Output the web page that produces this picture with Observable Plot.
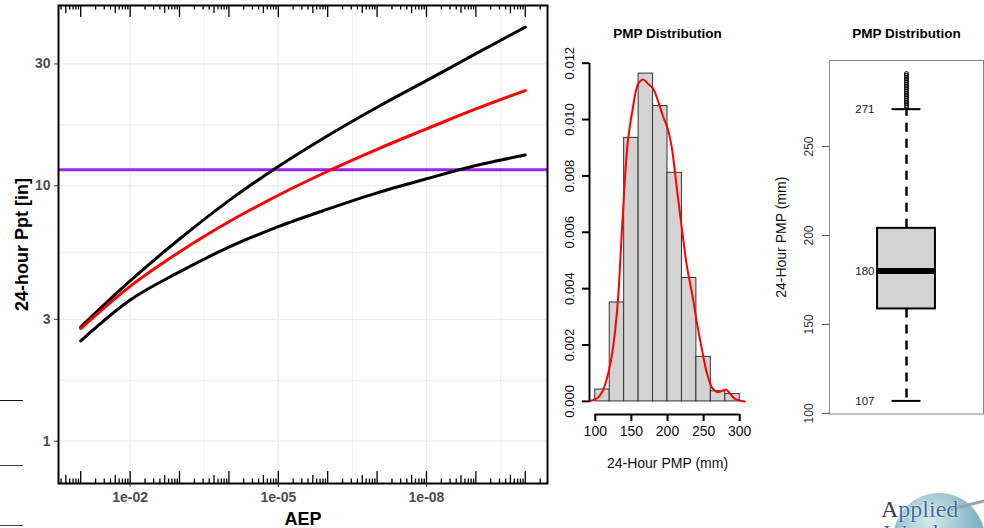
<!DOCTYPE html>
<html><head><meta charset="utf-8">
<script src="https://cdn.jsdelivr.net/npm/d3@7"></script>
<script src="https://cdn.jsdelivr.net/npm/@observablehq/plot@0.6"></script>
<style>
body{margin:0;background:#fff;}
#wrap{position:relative;width:984px;height:528px;overflow:hidden;background:#fff;font-family:"Liberation Sans",Arial,sans-serif;}
.panel{position:absolute;top:0;}
.stub{position:absolute;left:0;width:23px;height:1px;}
#globe{position:absolute;left:893px;top:493px;width:92px;height:92px;border-radius:50%;
  background:radial-gradient(circle at 40% 30%, #d6eaee 0%, #8fbfca 45%, #5c97a9 100%);}
.logo{position:absolute;font-family:"Liberation Serif","DejaVu Serif",serif;font-size:24px;line-height:24px;color:#46699a;
  text-shadow:0 0 2px #fff,0 0 1px #fff;}
#swoosh{position:absolute;left:950px;top:503px;width:40px;height:3px;background:#9aa4ad;transform:rotate(-14deg);border-radius:2px;}
</style></head>
<body><div id="wrap">
<div class="panel" id="pA" style="left:0"></div>
<div class="panel" id="pB" style="left:560px"></div>
<div class="panel" id="pC" style="left:770px"></div>
<div class="stub" style="top:400px;background:#111"></div>
<div class="stub" style="top:465px;background:#444"></div>
<div class="stub" style="top:525px;background:#444"></div>
<div id="globe"></div>
<div id="swoosh"></div>
<div class="logo" style="left:881px;top:497px"><span style="color:#2c3e5c">A</span>pplied</div>
<div class="logo" style="left:884px;top:521px">Weather</div>
</div>
<script>
// ---------- Panel A: precipitation frequency curves ----------
const aep = [1e-1, 1e-2, 1e-3, 1e-4, 1e-5, 1e-6, 1e-7, 1e-8, 1e-9, 1e-10];
const upperPpt = [2.80, 4.24, 6.19, 8.75, 11.9, 15.7, 20.3, 25.8, 32.9, 41.8];
const centralPpt = [2.76, 4.04, 5.51, 7.23, 9.18, 11.4, 13.9, 16.7, 20.0, 23.6];
const lowerPpt = [2.47, 3.57, 4.60, 5.75, 6.92, 8.1, 9.38, 10.65, 12.0, 13.2];
const pmpLine = [11.56];
const yTicksA = [1, 3, 10, 30];
const xTicksA = [1e-2, 1e-5, 1e-8];
const yGridA = [1, 1.732, 3, 5.477, 10, 17.32, 30];
const xGridA = [10 ** -3.5, 1e-2, 1e-5, 10 ** -6.5, 1e-8, 10 ** -9.5];

// ---------- Panel B: histogram + density ----------
const binEdges = [100, 120, 140, 160, 180, 200, 220, 240, 260, 280, 300];
const binDensity = [0.00042, 0.00351, 0.00935, 0.01163, 0.01048, 0.00811, 0.00438, 0.00158, 0.00036, 0.00026];
const densX = [92, 103, 110, 117, 124, 131, 138, 145, 152, 159, 166, 173, 180, 187, 194, 200, 206, 213, 220, 227, 234, 241, 248, 255, 262, 269, 276, 281, 287, 294, 307];
const densY = [0, 0.00012, 0.00036, 0.0009, 0.0018, 0.00347, 0.00658, 0.0092, 0.0104, 0.01124, 0.01142, 0.01127, 0.0111, 0.01065, 0.0101, 0.0097, 0.0090, 0.00754, 0.0061, 0.00478, 0.00383, 0.00275, 0.0018, 0.00096, 0.00048, 0.00033, 0.00038, 0.00042, 0.00026, 0.00008, 0];
const yTicksB = [0, 0.002, 0.004, 0.006, 0.008, 0.010, 0.012];
const xTicksB = [100, 150, 200, 250, 300];

// ---------- Panel C: boxplot ----------
const boxName = ["PMP"];
const boxLo = [107], boxQ1 = [158.7], boxMedian = [180], boxQ3 = [204], boxHi = [271];
const boxLabels = [271, 180, 107];
const outliers = [272, 273, 274, 275, 276, 277, 278, 279, 280, 281, 282, 283, 284, 285, 286, 287, 288, 289, 290, 291];
const yTicksC = [100, 150, 200, 250];

const FONT = '"Liberation Sans", Arial, sans-serif';
const H = 528;

// ----- build A -----
const seriesA = [
  {name: "upper", values: upperPpt, color: "black"},
  {name: "lower", values: lowerPpt, color: "black"},
  {name: "central", values: centralPpt, color: "red"}
];
const rowsA = seriesA.flatMap(s => aep.map((a, i) => ({aep: a, ppt: s.values[i], name: s.name, color: s.color})));
const mA = {top: 5, right: 13, bottom: 45, left: 58};
const fhA = H - mA.top - mA.bottom;
const xDomA = [10 ** -0.55, 10 ** -10.45];
const yDomA = [0.683, 50.8];
const logTicks = [];
for (let n = 0; n <= 10; n++) for (let k = 1; k <= 9; k++) {
  const t = n + Math.log10(k);
  if (t >= 0.55 && t <= 10.45) logTicks.push({x: 10 ** -t, kind: k === 1 ? "long" : k === 5 ? "mid" : "short"});
}
const tickLen = {long: 12, mid: 8, short: 4.5};
const fmtE = d => {
  const e = Math.round(Math.log10(d));
  return "1e" + (e < 0 ? "-" : "+") + String(Math.abs(e)).padStart(2, "0");
};

const plotA = Plot.plot({
  width: 560, height: H,
  marginTop: mA.top, marginRight: mA.right, marginBottom: mA.bottom, marginLeft: mA.left,
  style: {fontFamily: FONT, background: "transparent"},
  x: {type: "log", domain: xDomA, axis: null},
  y: {type: "log", domain: yDomA, axis: null},
  marks: [
    Plot.ruleY(yGridA, {stroke: "#EBEBEB", strokeWidth: d => yTicksA.includes(d) ? 1.3 : 0.8}),
    Plot.ruleX(xGridA, {stroke: "#EBEBEB", strokeWidth: d => xTicksA.includes(d) ? 1.3 : 0.8}),
    Plot.ruleY(pmpLine, {stroke: "#A020F0", strokeWidth: 3}),
    Plot.line(rowsA.filter(d => d.color === "black"), {x: "aep", y: "ppt", z: "name", stroke: "black", strokeWidth: 3, curve: "monotone-x"}),
    Plot.line(rowsA.filter(d => d.color === "red"), {x: "aep", y: "ppt", stroke: "red", strokeWidth: 3, curve: "monotone-x"}),
    ...["long", "mid", "short"].flatMap(kind => [
      Plot.tickX(logTicks.filter(d => d.kind === kind), {x: "x", insetTop: fhA - tickLen[kind], stroke: "black", strokeWidth: 1.3}),
      Plot.tickX(logTicks.filter(d => d.kind === kind), {x: "x", insetBottom: fhA - tickLen[kind], stroke: "black", strokeWidth: 1.3})
    ]),
    Plot.frame({stroke: "black", strokeWidth: 2}),
    Plot.axisY({ticks: yTicksA, tickFormat: d => String(d), tickSize: 4, tickPadding: 4, fontSize: 14, fontWeight: "bold", stroke: "#333", fill: "#4D4D4D", label: null}),
    Plot.axisX({ticks: xTicksA, tickFormat: fmtE, tickSize: 4, tickPadding: 5, fontSize: 14, fontWeight: "bold", stroke: "#333", fill: "#4D4D4D", label: null}),
    Plot.text(["AEP"], {text: d => d, frameAnchor: "bottom", lineAnchor: "middle", dy: 36, fontSize: 18, fontWeight: "bold", fill: "black"}),
    Plot.text(["24-hour Ppt [in]"], {text: d => d, frameAnchor: "left", textAnchor: "middle", lineAnchor: "middle", rotate: -90, dx: -36, fontSize: 18, fontWeight: "bold", fill: "black"})
  ]
});
document.getElementById("pA").appendChild(plotA);

// ----- build B -----
const bins = binDensity.map((d, i) => ({x0: binEdges[i], x1: binEdges[i + 1], d}));
const dens = densX.map((x, i) => ({x, y: densY[i]}));
const xDomB = [92, 308];
const yDomB = [-0.000465, 0.012095];
const plotB = Plot.plot({
  width: 210, height: H,
  marginTop: 60, marginRight: 25, marginBottom: 114, marginLeft: 29,
  style: {fontFamily: FONT, background: "transparent"},
  x: {domain: xDomB, axis: null},
  y: {domain: yDomB, axis: null},
  marks: [
    Plot.rectY(bins, {x1: "x0", x2: "x1", y: "d", fill: "#D3D3D3", stroke: "#333", strokeWidth: 1, inset: 0}),
    Plot.line(dens, {x: "x", y: "y", stroke: "red", strokeWidth: 2, curve: "catmull-rom"}),
    Plot.ruleX([{x: xDomB[0], y1: yTicksB[0], y2: yTicksB[yTicksB.length - 1]}], {x: "x", y1: "y1", y2: "y2", stroke: "black", strokeWidth: 2}),
    Plot.axisY({ticks: yTicksB, tickSize: 7, strokeWidth: 2, stroke: "black", fill: "none", label: null}),
    Plot.text(yTicksB, {y: d => d, text: d3.format(".3f"), frameAnchor: "left", textAnchor: "middle", lineAnchor: "middle", dx: -20, rotate: -90, fontSize: 13, fill: "#111"}),
    Plot.ruleY([{y: yDomB[0], x1: xTicksB[0], x2: xTicksB[xTicksB.length - 1]}], {y: "y", x1: "x1", x2: "x2", stroke: "black", strokeWidth: 2}),
    Plot.axisX({ticks: xTicksB, tickSize: 7, strokeWidth: 2, tickPadding: 5, fontSize: 14, stroke: "black", fill: "#111", label: null}),
    Plot.text(["24-Hour PMP (mm)"], {text: d => d, frameAnchor: "bottom", lineAnchor: "middle", dy: 49, fontSize: 14, fill: "#111"}),
    Plot.text(["PMP Distribution"], {text: d => d, frameAnchor: "top", lineAnchor: "middle", dy: -27, fontSize: 13.5, fontWeight: "bold", fill: "black"})
  ]
});
document.getElementById("pB").appendChild(plotB);

// ----- build C -----
const boxStats = boxName.map((name, i) => ({name, lo: boxLo[i], q1: boxQ1[i], median: boxMedian[i], q3: boxQ3[i], hi: boxHi[i]}));
const plotC = Plot.plot({
  width: 214, height: H,
  marginTop: 60, marginRight: 1, marginBottom: 114.5, marginLeft: 59,
  style: {fontFamily: FONT, background: "transparent"},
  x: {type: "band", domain: boxName, paddingInner: 0, paddingOuter: 0.83, round: false, axis: null},
  y: {domain: [99.64, 298.36], axis: null},
  marks: [
    Plot.frame({stroke: "#888", strokeWidth: 1}),
    Plot.axisY({ticks: yTicksC, tickSize: 7, stroke: "#555", fill: "none", label: null}),
    Plot.text(yTicksC, {y: d => d, text: d => String(d), frameAnchor: "left", textAnchor: "middle", lineAnchor: "middle", dx: -20, rotate: -90, fontSize: 12, fill: "#333"}),
    Plot.ruleX(boxStats, {x: "name", y1: "q3", y2: "hi", stroke: "black", strokeWidth: 2.5, strokeDasharray: "9,7"}),
    Plot.ruleX(boxStats, {x: "name", y1: "q1", y2: "lo", stroke: "black", strokeWidth: 2.5, strokeDasharray: "9,7"}),
    Plot.barY(boxStats, {x: "name", y1: "q1", y2: "q3", fill: "#D3D3D3", stroke: "black", strokeWidth: 2, inset: 0}),
    Plot.tickY(boxStats, {x: "name", y: "median", stroke: "black", strokeWidth: 6}),
    Plot.tickY(boxStats, {x: "name", y: "hi", insetLeft: 14.5, insetRight: 14.5, stroke: "black", strokeWidth: 2}),
    Plot.tickY(boxStats, {x: "name", y: "lo", insetLeft: 14.5, insetRight: 14.5, stroke: "black", strokeWidth: 2}),
    Plot.dot(outliers, {x: () => boxName[0], y: d => d, r: 2, stroke: "black", strokeWidth: 1, fill: "none"}),
    Plot.text(boxLabels, {x: () => boxName[0], y: d => d, text: d => String(d), dx: -32, textAnchor: "end", fontSize: 11.5, fill: "#222"}),
    Plot.text(["24-Hour PMP (mm)"], {text: d => d, frameAnchor: "left", textAnchor: "middle", lineAnchor: "middle", rotate: -90, dx: -48, fontSize: 14, fill: "#111"}),
    Plot.text(["PMP Distribution"], {text: d => d, frameAnchor: "top", lineAnchor: "middle", dy: -27, fontSize: 13.5, fontWeight: "bold", fill: "black"})
  ]
});
document.getElementById("pC").appendChild(plotC);
</script>
</body></html>
